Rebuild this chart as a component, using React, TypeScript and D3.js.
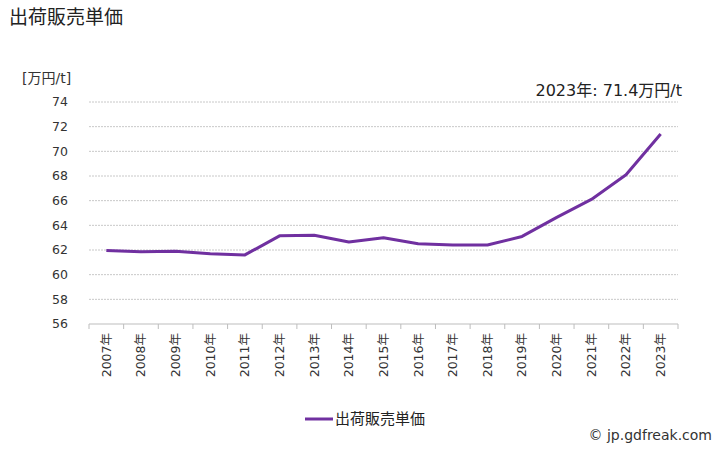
import { useEffect, useRef } from 'react';
import * as d3 from 'd3';

const years = ['2007年', '2008年', '2009年', '2010年', '2011年', '2012年', '2013年', '2014年', '2015年', '2016年', '2017年', '2018年', '2019年', '2020年', '2021年', '2022年', '2023年'];
const prices = [61.95, 61.85, 61.9, 61.7, 61.6, 63.15, 63.2, 62.65, 63.0, 62.5, 62.4, 62.4, 63.1, 64.65, 66.1, 68.1, 71.4];
const yTicks = [56, 58, 60, 62, 64, 66, 68, 70, 72, 74];

const seriesName = '出荷販売単価';
const lineColor = '#7030a0';
const font = '"DejaVu Sans", "Noto Sans CJK JP", sans-serif';

export default function App() {
  const svgRef = useRef<SVGSVGElement>(null);

  useEffect(() => {
    if (!svgRef.current) return;
    const svg = d3.select(svgRef.current);
    svg.selectAll('*').remove();

    const W = 728, H = 450;
    const margin = { top: 102, right: 50, bottom: 126, left: 89 };
    const width = W - margin.left - margin.right;
    const height = H - margin.top - margin.bottom;

    const x = d3.scaleBand<string>().domain(years).range([0, width]);
    const y = d3.scaleLinear().domain([56, 74]).range([height, 0]);

    const g = svg.append('g').attr('transform', `translate(${margin.left},${margin.top})`);

    // grid
    g.selectAll('line.grid')
      .data(yTicks.slice(1))
      .enter()
      .append('line')
      .attr('x1', 0)
      .attr('x2', width)
      .attr('y1', d => y(d))
      .attr('y2', d => y(d))
      .style('stroke', '#c8c8c8')
      .style('stroke-width', 1)
      .style('stroke-dasharray', '2,1');

    // y labels
    g.selectAll('text.ytick')
      .data(yTicks)
      .enter()
      .append('text')
      .attr('x', -21)
      .attr('y', d => y(d))
      .attr('dy', '0.35em')
      .attr('text-anchor', 'end')
      .style('font-family', font)
      .style('font-size', '12.5px')
      .style('fill', '#333')
      .text(d => d);

    // x axis baseline + ticks
    const xAxis = g.append('g').attr('transform', `translate(0,${height})`);
    xAxis.append('line')
      .attr('x1', 0).attr('x2', width)
      .style('stroke', '#bdbdbd');
    const bounds = years.map(d => x(d) ?? 0).concat([width]);
    xAxis.selectAll('line.tick')
      .data(bounds)
      .enter()
      .append('line')
      .attr('x1', d => d).attr('x2', d => d)
      .attr('y1', 0).attr('y2', 5)
      .style('stroke', '#bdbdbd');
    xAxis.selectAll('text')
      .data(years)
      .enter()
      .append('text')
      .attr('transform', d => `translate(${(x(d) ?? 0) + x.bandwidth() / 2},9) rotate(-90)`)
      .attr('dy', '0.35em')
      .attr('text-anchor', 'end')
      .style('font-family', font)
      .style('font-size', '12.5px')
      .style('fill', '#333')
      .text(d => d);

    // line
    const line = d3.line<number>()
      .x((_, i) => (x(years[i]) ?? 0) + x.bandwidth() / 2)
      .y(d => y(d));
    g.append('path')
      .datum(prices)
      .attr('d', line)
      .style('fill', 'none')
      .style('stroke', lineColor)
      .style('stroke-width', 3)
      .style('stroke-linejoin', 'round');

    // title
    svg.append('text')
      .attr('x', 9).attr('y', 24)
      .style('font-family', font)
      .style('font-size', '19px')
      .style('fill', '#222')
      .text(seriesName);

    svg.append('text')
      .attr('x', 22).attr('y', 83)
      .style('font-family', font)
      .style('font-size', '14px')
      .style('fill', '#333')
      .text('[万円/t]');

    svg.append('text')
      .attr('x', 682).attr('y', 96)
      .attr('text-anchor', 'end')
      .style('font-family', font)
      .style('font-size', '16px')
      .style('fill', '#222')
      .text(`2023年: ${prices[prices.length - 1]}万円/t`);

    // legend
    svg.append('line')
      .attr('x1', 305).attr('x2', 333)
      .attr('y1', 419).attr('y2', 419)
      .style('stroke', lineColor)
      .style('stroke-width', 3);
    svg.append('text')
      .attr('x', 335).attr('y', 419)
      .attr('dy', '0.35em')
      .style('font-family', font)
      .style('font-size', '15px')
      .style('fill', '#222')
      .text(seriesName);

    svg.append('text')
      .attr('x', 712).attr('y', 440)
      .attr('text-anchor', 'end')
      .style('font-family', font)
      .style('font-size', '14px')
      .style('fill', '#333')
      .text('© jp.gdfreak.com');
  }, []);

  return (
    <svg
      ref={svgRef}
      width={728}
      height={450}
      style={{ position: 'absolute', left: 0, top: 0, background: '#fff' }}
    />
  );
}
